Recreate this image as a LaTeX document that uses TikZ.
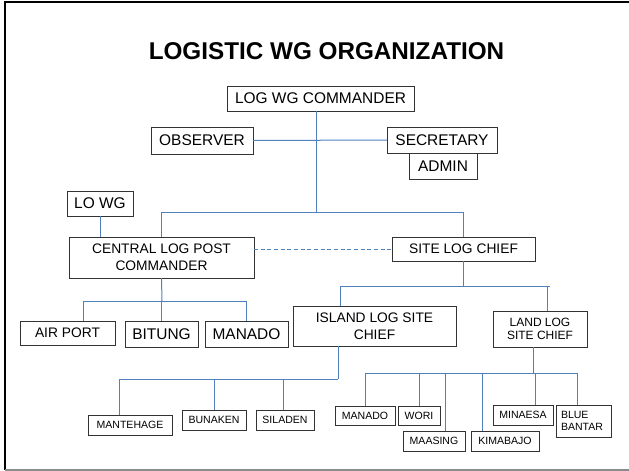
\documentclass[tikz,border=0pt]{standalone}
\usepackage{fontspec}
\setmainfont{Liberation Sans}
\usetikzlibrary{calc}
\definecolor{linkblue}{RGB}{79,129,189}
\begin{document}
\begin{tikzpicture}[x=0.75pt,y=-0.75pt,inner sep=0pt,outer sep=0pt,
orgbox/.style={draw=black!80,rectangle,line width=0.6pt,fill=white,align=center},
boxsize/.style 2 args={minimum width=#1*0.75pt,minimum height=#2*0.75pt},
bigtxt/.style={font=\fontsize{11.6}{14}\selectfont},
midtxt/.style={font=\fontsize{10.35}{12.6}\selectfont},
smtxt/.style={font=\fontsize{9}{9.9}\selectfont},
tinytxt/.style={font=\fontsize{7.9}{9}\selectfont},
link/.style={draw=linkblue,line width=0.75pt}]
\useasboundingbox (0,0) rectangle (629,471);
% frame
\draw[line width=2pt] (5,470) -- (5,2) -- (629,2);
\draw[black!45,line width=1pt] (5,470) -- (629,470);
\draw (326.5,60) node[anchor=base,font=\bfseries\fontsize{18.2}{20}\selectfont] (title) {LOGISTIC WG ORGANIZATION};
% top level
\draw (320.5,98.5) node[orgbox,bigtxt,boxsize={187}{25}] (cmd) {LOG WG COMMANDER};
\draw (202,140.5) node[orgbox,bigtxt,boxsize={102}{27}] (obs) {OBSERVER};
\draw (442,140) node[orgbox,bigtxt,boxsize={110}{26}] (sec) {SECRETARY};
\draw (443,166) node[orgbox,bigtxt,boxsize={68}{26}] (adm) {ADMIN};
\draw (100,203.5) node[orgbox,bigtxt,boxsize={66}{25}] (lowg) {LO WG};
\draw (161.5,257.5) node[orgbox,midtxt,boxsize={185}{41}] (cent) {CENTRAL LOG POST\\COMMANDER};
\draw (463.5,249) node[orgbox,midtxt,boxsize={143}{24}] (site) {SITE LOG CHIEF};
% central branch
\draw (67.5,333) node[orgbox,midtxt,boxsize={95}{24}] (air) {AIR PORT};
\draw (161.5,334) node[orgbox,bigtxt,boxsize={73}{26}] (bit) {BITUNG};
\draw (246.5,334) node[orgbox,bigtxt,boxsize={83}{26}] (man) {MANADO};
% site branch
\draw (374.5,326) node[orgbox,midtxt,boxsize={163}{40}] (isl) {ISLAND LOG SITE\\CHIEF};
\draw (540,329) node[orgbox,smtxt,boxsize={94}{36}] (land) {LAND LOG\\SITE CHIEF};
\draw (130,425) node[orgbox,tinytxt,boxsize={84}{20}] (mant) {MANTEHAGE};
\draw (214,420) node[orgbox,tinytxt,boxsize={64}{20}] (bun) {BUNAKEN};
\draw (285,420) node[orgbox,tinytxt,boxsize={58}{20}] (sil) {SILADEN};
\draw (365,415.5) node[orgbox,tinytxt,boxsize={60}{19}] (manb) {MANADO};
\draw (419,415.5) node[orgbox,tinytxt,boxsize={42}{19}] (wori) {WORI};
\draw (434,441) node[orgbox,tinytxt,boxsize={62}{20}] (maas) {MAASING};
\draw (505,441) node[orgbox,tinytxt,boxsize={68}{20}] (kim) {KIMABAJO};
\draw (523,415) node[orgbox,tinytxt,boxsize={60}{20}] (mina) {MINAESA};
\draw (583.5,421) node[orgbox,tinytxt,boxsize={55}{32},align=left,text width=45*0.75pt] (blue) {BLUE\\BANTAR};
% junctions and branch points
\coordinate (j1) at (316,212);
\coordinate (j2) at (466,286);
\coordinate (j3) at (162,301);
\coordinate (j4) at (338,379);
\coordinate (j5) at (533,373);
\coordinate (islin) at ($(isl.north west)+(47,0)$);
\coordinate (landin) at ($(land.north)+(7,0)$);
\coordinate (bar2end) at ($(land.north)+(10,0)$);
\coordinate (airin) at ($(air.north)+(15.5,0)$);
\coordinate (mantin) at ($(mant.north)+(-11,0)$);
\coordinate (silin) at ($(sil.north)+(-2,0)$);
\coordinate (bluein) at ($(blue.north)+(-6.5,0)$);
\coordinate (maasin) at ($(maas.north)+(11,0)$);
\coordinate (kimin) at ($(kim.north)+(-23,0)$);
\coordinate (minain) at ($(mina.north)+(12,0)$);
% connectors
\draw[link] (cmd.south -| j1) -- (j1);
\draw[link] (obs.east) -- (sec.west);
\draw[link] (cent.north) -- (cent.north |- j1) -- (site.north |- j1) -- (site.north);
\draw[link] (lowg.south) -- (lowg.south |- cent.north);
\draw[link,dash pattern=on 3pt off 2pt] (cent.east |- site.west) -- (site.west);
\draw[link] (site.south) -- (site.south |- j2);
\draw[link] (islin) -- (islin |- j2) -- (bar2end |- j2);
\draw[link] (landin) -- (landin |- j2);
\draw[link] (cent.south) -- (j3);
\draw[link] (airin) -- (airin |- j3) -- (man.north |- j3) -- (man.north);
\draw[link] (bit.north) -- (bit.north |- j3);
\draw[link] (isl.south -| j4) -- (j4);
\draw[link] (mantin) -- (mantin |- j4) -- (j4);
\draw[link] (bun.north) -- (bun.north |- j4);
\draw[link] (silin) -- (silin |- j4);
\draw[link] (land.south -| j5) -- (j5);
\draw[link] (manb.north) -- (manb.north |- j5) -- (bluein |- j5) -- (bluein);
\draw[link] (wori.north) -- (wori.north |- j5);
\draw[link] (maasin) -- (maasin |- j5);
\draw[link] (kimin) -- (kimin |- j5);
\draw[link] (minain) -- (minain |- j5);
\end{tikzpicture}
\end{document}
